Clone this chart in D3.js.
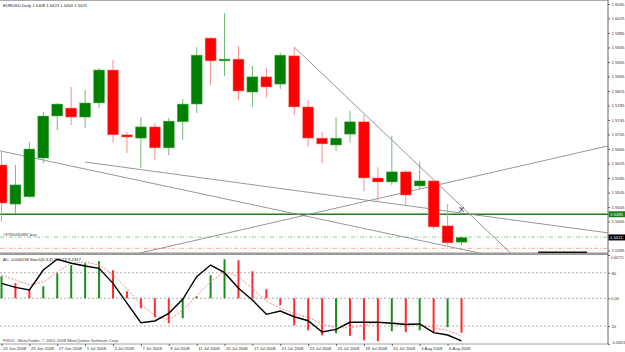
<!DOCTYPE html>
<html>
<head>
<meta charset="utf-8">
<script src="https://cdn.jsdelivr.net/npm/d3@7"></script>
<style>
  body { margin: 0; background: #fff; }
  svg text { font-family: "Liberation Sans", Arial, sans-serif; }
</style>
</head>
<body>
<div id="chart"></div>
<script>
// daily bars, EURUSD
let dates = ["23 Jun 2008","24 Jun 2008","25 Jun 2008","26 Jun 2008","27 Jun 2008","30 Jun 2008",
  "1 Jul 2008","2 Jul 2008","3 Jul 2008","4 Jul 2008","7 Jul 2008","8 Jul 2008","9 Jul 2008","10 Jul 2008",
  "11 Jul 2008","14 Jul 2008","15 Jul 2008","16 Jul 2008","17 Jul 2008","18 Jul 2008","21 Jul 2008",
  "22 Jul 2008","23 Jul 2008","24 Jul 2008","25 Jul 2008","28 Jul 2008","29 Jul 2008","30 Jul 2008",
  "31 Jul 2008","1 Aug 2008","4 Aug 2008","5 Aug 2008","6 Aug 2008","7 Aug 2008"];

let open  = [1.5621,1.5513,1.5533,1.5640,1.5756,1.5778,1.5753,1.5792,1.5883,1.5704,1.5695,1.5726,1.5668,1.5740,1.5789,1.5971,1.5908,
             1.5913,1.5822,1.5864,1.5844,1.5922,1.5781,1.5695,1.5676,1.5706,1.5740,1.5585,1.5574,1.5602,1.5563,1.5577,1.5453,1.5408];
let high  = [1.5657,1.5621,1.5684,1.5767,1.5792,1.5836,1.5828,1.5888,1.5911,1.5712,1.5753,1.5737,1.5751,1.5803,1.5946,1.5974,1.6040,
             1.5949,1.5894,1.5888,1.5930,1.5946,1.5800,1.5712,1.5753,1.5770,1.5759,1.5615,1.5701,1.5607,1.5629,1.5580,1.5513,1.5423];
let low   = [1.5464,1.5488,1.5530,1.5626,1.5717,1.5731,1.5723,1.5778,1.5682,1.5654,1.5613,1.5635,1.5648,1.5690,1.5764,1.5842,1.5866,
             1.5800,1.5781,1.5806,1.5831,1.5759,1.5671,1.5626,1.5660,1.5682,1.5549,1.5522,1.5566,1.5511,1.5555,1.5444,1.5400,1.5400];
let close = [1.5516,1.5566,1.5665,1.5756,1.5789,1.5753,1.5792,1.5883,1.5704,1.5698,1.5726,1.5668,1.5742,1.5789,1.5924,1.5908,1.5913,
             1.5825,1.5864,1.5836,1.5924,1.5781,1.5695,1.5679,1.5695,1.5740,1.5585,1.5574,1.5602,1.5538,1.5577,1.5450,1.5406,1.5421];

// Accelerator oscillator
let acValues = [0.00394,0.00269,0.00161,0.00215,0.00448,0.00591,0.00627,0.00662,0.00501,0.00125,-0.00179,-0.00340,-0.00448,
                -0.00358,0.00036,0.00412,0.00698,0.00680,0.00483,0.00161,-0.00125,-0.00483,-0.00573,-0.00662,-0.00627,-0.00670,
                -0.00752,-0.00770,-0.00591,-0.00609,-0.00573,-0.00609,-0.00519,-0.006158];
// Stochastic 5,3,3
let stochMain = [68.1,63.6,60.6,83.1,95.2,90.7,87.6,85.0,68.1,45.9,23.8,25.7,34.3,50.1,75.6,88.7,80.1,62.5,49.3,33.2,36.9,30.5,
                 26.0,13.3,16.3,24.2,24.2,24.2,23.1,21.7,22.3,12.5,9.9,3.4];
let stochSignal = [77.5,71.8,66.2,69.6,80.9,91.0,92.1,88.7,78.0,62.0,44.0,32.0,27.0,38.0,54.0,70.0,81.0,76.0,62.0,48.0,40.0,34.0,
                   30.0,22.0,18.0,18.0,21.0,24.0,24.0,23.0,22.0,18.0,15.0,9.2];

let priceTicks = [1.6065,1.6025,1.5985,1.5945,1.5905,1.5865,1.5825,1.5785,1.5745,1.5705,1.5665,1.5625,1.5585,1.5545,1.5505,1.5465,1.5385];
let acTicks = [0.00775, 0, -0.00816];
let stochLevels = [80, 20];
let timeLabels = ["23 Jun 2008","25 Jun 2008","27 Jun 2008","1 Jul 2008","3 Jul 2008","7 Jul 2008","9 Jul 2008","11 Jul 2008",
                  "15 Jul 2008","17 Jul 2008","21 Jul 2008","23 Jul 2008","25 Jul 2008","29 Jul 2008","31 Jul 2008","4 Aug 2008","6 Aug 2008"];

// drawn objects: trendlines (bar index, price), horizontal lines
let trendLines = [
  {i1: 0,  p1: 1.5659, i2: 30, p2: 1.5413, extendLeft: true},
  {i1: 6,  p1: 1.5629, i2: 30, p2: 1.5504, extendLeft: false},
  {i1: 13, p1: 1.5405, i2: 33, p2: 1.5581, extendLeft: true},
  {i1: 21, p1: 1.5946, i2: 31, p2: 1.5580, extendLeft: false}
];
let hLinePrice = 1.5485;
let buyPrice = 1.5422;
let stopPrice = 1.5391;
let bidPrice = 1.5421;
let xMark = {i: 33, p: 1.5500};
let bottomSeg = {i1: 38.5, i2: 42, p: 1.5380};

let W = 625, H = 352;
let plotRight = 608;
let mainTop = 2, mainBottom = 253, subTop = 255, subBottom = 343.8;

let svg = d3.select("#chart").append("svg")
    .attr("width", W).attr("height", H)
    .style("background", "#fff");

let x = d3.scaleLinear().domain([0, 33]).range([1.5, 1.5 + 33 * 13.94]);
let yPrice = d3.scaleLinear().domain([1.53781, 1.60705]).range([mainBottom, mainTop]);
let yStoch = d3.scaleLinear().domain([0, 100]).range([subBottom, subTop]);
let yAC = d3.scaleLinear().domain([-0.00816, 0.00775]).range([subBottom, subTop]);

let defs = svg.append("defs");
defs.append("clipPath").attr("id", "clipMain")
  .append("rect").attr("x", 0).attr("y", mainTop).attr("width", plotRight).attr("height", mainBottom - mainTop);
defs.append("clipPath").attr("id", "clipSub")
  .append("rect").attr("x", 0).attr("y", subTop).attr("width", plotRight).attr("height", subBottom - subTop);

let bars = dates.map(function(d, i){
  return {i: i, date: d, o: open[i], h: high[i], l: low[i], c: close[i]};
});

let font = 4.2;

// ---------- main window ----------
let gMain = svg.append("g").attr("clip-path", "url(#clipMain)");

// horizontal lines
gMain.append("line")
  .attr("x1", 0).attr("x2", plotRight)
  .attr("y1", yPrice(hLinePrice)).attr("y2", yPrice(hLinePrice))
  .attr("stroke", "#1e7d1e").attr("stroke-width", 1.3);
gMain.append("line")
  .attr("x1", 0).attr("x2", plotRight)
  .attr("y1", yPrice(buyPrice)).attr("y2", yPrice(buyPrice))
  .attr("stroke", "#7fc77f").attr("stroke-width", 0.9).attr("stroke-dasharray", "4,2,1,2");
gMain.append("line")
  .attr("x1", 0).attr("x2", plotRight)
  .attr("y1", yPrice(stopPrice)).attr("y2", yPrice(stopPrice))
  .attr("stroke", "#ff9a8a").attr("stroke-width", 0.9).attr("stroke-dasharray", "4,2,1,2");

// trendlines
trendLines.forEach(function(t){
  let k = (t.p2 - t.p1) / (t.i2 - t.i1);
  let iLeft = t.extendLeft ? x.invert(0) : t.i1;
  let iRight = x.invert(plotRight);
  gMain.append("line")
    .attr("x1", x(iLeft)).attr("y1", yPrice(t.p1 + k * (iLeft - t.i1)))
    .attr("x2", x(iRight)).attr("y2", yPrice(t.p1 + k * (iRight - t.i1)))
    .attr("stroke", "#8a8a8a").attr("stroke-width", 0.9);
});

// candles
let candle = gMain.selectAll("g.candle")
    .data(bars)
  .enter().append("g")
    .attr("class", "candle");

candle.append("line")
  .attr("x1", d => x(d.i)).attr("x2", d => x(d.i))
  .attr("y1", d => yPrice(d.h)).attr("y2", d => yPrice(d.l))
  .attr("stroke", d => d.c >= d.o ? "#74b874" : "#ff8c8c")
  .attr("stroke-width", 1);

candle.append("rect")
  .attr("x", d => x(d.i) - 5.5)
  .attr("width", 11)
  .attr("y", d => yPrice(Math.max(d.o, d.c)))
  .attr("height", d => Math.max(1, Math.abs(yPrice(d.o) - yPrice(d.c))))
  .attr("fill", d => d.c >= d.o ? "#008000" : "#ff0000")
  .attr("stroke", d => d.c >= d.o ? "#6fb86f" : "#ff8f8f")
  .attr("stroke-width", 0.5);

// X marker
svg.append("text")
  .attr("x", x(xMark.i)).attr("y", yPrice(xMark.p) + 3)
  .attr("text-anchor", "middle")
  .attr("font-size", 8).attr("fill", "#000")
  .text("X");

// separator between windows
svg.append("rect")
  .attr("x", 0).attr("y", 252.5).attr("width", plotRight).attr("height", 2.5)
  .attr("fill", "#9a9a9a");
svg.append("line")
  .attr("x1", x(bottomSeg.i1)).attr("x2", x(bottomSeg.i2))
  .attr("y1", yPrice(bottomSeg.p)).attr("y2", yPrice(bottomSeg.p))
  .attr("stroke", "#111").attr("stroke-width", 1.6);

// texts in main window
svg.append("text").attr("x", 3).attr("y", 7).attr("font-size", font).attr("fill", "#222")
  .text("EURUSD,Daily  1.5408 1.5423 1.5400 1.5421");
svg.append("text").attr("x", 3).attr("y", yPrice(buyPrice) - 0.8).attr("font-size", font).attr("fill", "#444")
  .text("#9783430882 buy");

// ---------- sub window ----------
let gSub = svg.append("g").attr("clip-path", "url(#clipSub)");

// level lines
gSub.selectAll("line.level")
    .data(stochLevels.map(yStoch).concat([yAC(0)]))
  .enter().append("line")
    .attr("class", "level")
    .attr("x1", 0).attr("x2", plotRight)
    .attr("y1", d => d).attr("y2", d => d)
    .attr("stroke", "#9a9a9a").attr("stroke-width", 0.8).attr("stroke-dasharray", "2,2");

// AC histogram
gSub.selectAll("line.ac")
    .data(acValues)
  .enter().append("line")
    .attr("class", "ac")
    .attr("x1", (d, i) => x(i)).attr("x2", (d, i) => x(i))
    .attr("y1", yAC(0)).attr("y2", d => yAC(d))
    .attr("stroke", (d, i) => (i === 0 || d >= acValues[i - 1]) ? "#1b8c1b" : "#ff2a2a")
    .attr("stroke-width", 2);

// stochastic
gSub.append("path")
  .datum(stochSignal)
  .attr("d", d3.line().x((d, i) => x(i)).y(d => yStoch(d)))
  .attr("fill", "none").attr("stroke", "#ff8080").attr("stroke-width", 1).attr("stroke-dasharray", "2,1.5");
gSub.append("path")
  .datum(stochMain)
  .attr("d", d3.line().x((d, i) => x(i)).y(d => yStoch(d)))
  .attr("fill", "none").attr("stroke", "#000").attr("stroke-width", 1.4);

svg.append("text").attr("x", 3).attr("y", 261).attr("font-size", font).attr("fill", "#222")
  .text("AC -0.006158  Stoch(5,3,3) 3.4073 9.2347");
svg.append("text").attr("x", 3).attr("y", 342).attr("font-size", font).attr("fill", "#444")
  .text("FXDD - MetaTrader, © 2001-2008 MetaQuotes Software Corp.");

// ---------- frame ----------
svg.append("line").attr("x1", 0).attr("x2", plotRight).attr("y1", 0.5).attr("y2", 0.5)
  .attr("stroke", "#aaa").attr("stroke-width", 1);
svg.append("line").attr("x1", 0).attr("x2", plotRight).attr("y1", 344).attr("y2", 344)
  .attr("stroke", "#888").attr("stroke-width", 0.8);
svg.append("line").attr("x1", plotRight).attr("x2", plotRight).attr("y1", 0).attr("y2", 344)
  .attr("stroke", "#666").attr("stroke-width", 1);

function styleAxis(g){
  g.select(".domain").remove();
  g.attr("font-size", font).attr("font-family", "Liberation Sans, Arial, sans-serif");
  g.selectAll("line").attr("stroke", "#666");
  g.selectAll("text").attr("fill", "#333");
}

// price axis
svg.append("g")
  .attr("transform", "translate(" + plotRight + ",0)")
  .call(d3.axisRight(yPrice).tickValues(priceTicks).tickSize(2).tickSizeOuter(0).tickPadding(1.5)
        .tickFormat(d3.format(".4f")))
  .call(styleAxis);

// sub window axis
let acAxis = svg.append("g")
  .attr("transform", "translate(" + plotRight + ",0)")
  .call(d3.axisRight(yAC).tickValues(acTicks).tickSize(2).tickSizeOuter(0).tickPadding(1)
        .tickFormat(d => d === 0 ? "0.00" : d3.format(".5f")(d)))
  .call(styleAxis);
acAxis.selectAll("text")
  .attr("font-size", (d, i) => i === 1 ? font : 3.5)
  .attr("dy", (d, i) => i === 0 ? "1.1em" : (i === 2 ? "-0.2em" : "0.32em"));

svg.append("g")
  .attr("transform", "translate(" + plotRight + ",0)")
  .call(d3.axisRight(yStoch).tickValues(stochLevels).tickSize(2).tickSizeOuter(0).tickPadding(1.5))
  .call(styleAxis);

// price boxes on axis
[{p: hLinePrice, bg: "#1e7d1e"}, {p: bidPrice, bg: "#000"}].forEach(function(b){
  svg.append("rect")
    .attr("x", plotRight + 0.5).attr("y", yPrice(b.p) - 3)
    .attr("width", 16.5).attr("height", 6)
    .attr("fill", b.bg);
  svg.append("text")
    .attr("x", plotRight + 2).attr("y", yPrice(b.p) + 1.5)
    .attr("font-size", font).attr("fill", "#fff")
    .text(d3.format(".4f")(b.p));
});

// time axis
svg.append("g")
  .attr("transform", "translate(0,344)")
  .call(d3.axisBottom(x).tickValues(timeLabels.map(l => dates.indexOf(l)))
        .tickSize(2).tickSizeOuter(0).tickPadding(1)
        .tickFormat(i => dates[i]))
  .call(styleAxis)
  .call(g => g.selectAll("text").attr("text-anchor", "start").attr("x", 1));
</script>
</body>
</html>
